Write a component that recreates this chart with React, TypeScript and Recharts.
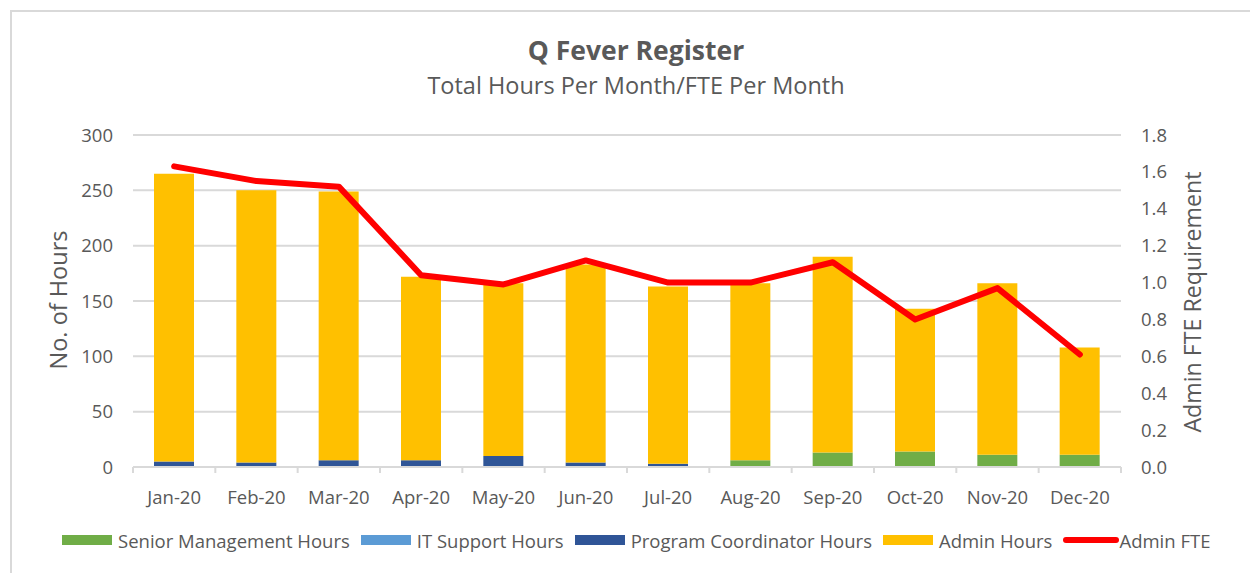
import {
  ComposedChart,
  Bar,
  Line,
  XAxis,
  YAxis,
  CartesianGrid,
} from "recharts";

const months = [
  "Jan-20", "Feb-20", "Mar-20", "Apr-20", "May-20", "Jun-20",
  "Jul-20", "Aug-20", "Sep-20", "Oct-20", "Nov-20", "Dec-20",
];
const seniorHours = [0, 0, 0, 0, 0, 0, 0, 6, 13, 14, 11, 11];
const itHours = [0, 0, 0, 0, 0, 0, 0, 0, 0, 0, 0, 0];
const coordinatorHours = [5, 4, 6, 6, 10, 4, 3, 0, 0, 0, 0, 0];
const adminHours = [260, 246, 243, 166, 156, 179, 160, 160, 177, 129, 155, 97];
const adminFte = [1.63, 1.55, 1.52, 1.04, 0.99, 1.12, 1.0, 1.0, 1.11, 0.8, 0.97, 0.61];

const hoursTicks = [0, 50, 100, 150, 200, 250, 300];
const fteTicks = [0, 0.2, 0.4, 0.6, 0.8, 1.0, 1.2, 1.4, 1.6, 1.8];

const W = 1250;
const H = 573;
const LEFT_W = 133;
const RIGHT_W = 129;
const PLOT_W = W - LEFT_W - RIGHT_W;
const TEXT = "#595959";
const GRID = "#d9d9d9";
const FONT = "'Open Sans', sans-serif";

const series = [
  { key: "senior", name: "Senior Management Hours", color: "#70AD47", type: "bar" },
  { key: "it", name: "IT Support Hours", color: "#5B9BD5", type: "bar" },
  { key: "coord", name: "Program Coordinator Hours", color: "#2F5597", type: "bar" },
  { key: "admin", name: "Admin Hours", color: "#FFC000", type: "bar" },
  { key: "fte", name: "Admin FTE", color: "#FF0000", type: "line" },
];

const data = months.map((m, i) => ({
  month: m,
  senior: seniorHours[i],
  it: itHours[i],
  coord: coordinatorHours[i],
  admin: adminHours[i],
  fte: adminFte[i],
}));

function MonthTick(props: any) {
  const { x, y, payload, index } = props;
  const band = PLOT_W / months.length;
  return (
    <g>
      <line x1={x - band / 2} x2={x - band / 2} y1={y} y2={y + 6} stroke={GRID} strokeWidth={2} />
      {index === months.length - 1 && (
        <line x1={x + band / 2} x2={x + band / 2} y1={y} y2={y + 6} stroke={GRID} strokeWidth={2} />
      )}
      <text
        x={x}
        y={y + 29}
        textAnchor="middle"
        dominantBaseline="central"
        fill={TEXT}
        fontSize={18.5}
        fontFamily={FONT}
      >
        {payload.value}
      </text>
    </g>
  );
}

export default function App() {
  return (
    <div
      style={{
        position: "fixed",
        left: 0,
        top: 0,
        width: W,
        height: H,
        overflow: "hidden",
        background: "#fff",
        fontFamily: FONT,
      }}
    >
      <div
        style={{
          position: "absolute",
          left: 10,
          top: 10,
          width: W + 40,
          height: H + 40,
          border: `2px solid ${GRID}`,
        }}
      />

      <div
        style={{
          position: "absolute",
          left: 11,
          width: W,
          top: 33,
          textAlign: "center",
          fontSize: 26.5,
          fontWeight: 700,
          color: TEXT,
          lineHeight: "34px",
        }}
      >
        Q Fever Register
      </div>
      <div
        style={{
          position: "absolute",
          left: 11,
          width: W,
          top: 70,
          textAlign: "center",
          fontSize: 23.5,
          color: TEXT,
          lineHeight: "30px",
        }}
      >
        Total Hours Per Month/FTE Per Month
      </div>

      <div
        style={{
          position: "absolute",
          left: 58,
          top: 300,
          transform: "translate(-50%, -50%) rotate(-90deg)",
          whiteSpace: "nowrap",
          fontSize: 23.5,
          color: TEXT,
        }}
      >
        No. of Hours
      </div>
      <div
        style={{
          position: "absolute",
          left: 1192,
          top: 302,
          transform: "translate(-50%, -50%) rotate(-90deg)",
          whiteSpace: "nowrap",
          fontSize: 23.2,
          color: TEXT,
        }}
      >
        Admin FTE Requirement
      </div>

      <div style={{ position: "absolute", left: 0, top: 0 }}>
        <ComposedChart
          width={W}
          height={H}
          data={data}
          margin={{ top: 135, right: 0, bottom: 46, left: 0 }}
          barSize={40}
        >
          <CartesianGrid yAxisId="hours" vertical={false} stroke={GRID} strokeWidth={2} />
          <XAxis
            dataKey="month"
            height={60}
            axisLine={{ stroke: GRID, strokeWidth: 2 }}
            tickLine={false}
            tickSize={0}
            tickMargin={0}
            interval={0}
            tick={<MonthTick />}
          />
          <YAxis
            yAxisId="hours"
            orientation="left"
            width={LEFT_W}
            domain={[0, 300]}
            ticks={hoursTicks}
            axisLine={false}
            tickLine={false}
            tickSize={0}
            tickMargin={20}
            tick={{ fill: TEXT, fontSize: 18.5, fontFamily: FONT }}
          />
          <YAxis
            yAxisId="fte"
            orientation="right"
            width={RIGHT_W}
            domain={[0, 1.8]}
            ticks={fteTicks}
            axisLine={false}
            tickLine={false}
            tickSize={0}
            tickMargin={20}
            tickFormatter={(v: number) => v.toFixed(1)}
            tick={{ fill: TEXT, fontSize: 18.5, fontFamily: FONT }}
          />
          {series
            .filter((s) => s.type === "bar")
            .map((s) => (
              <Bar
                key={s.key}
                dataKey={s.key}
                name={s.name}
                stackId="hours"
                yAxisId="hours"
                fill={s.color}
                isAnimationActive={false}
              />
            ))}
          <Line
            dataKey="fte"
            name="Admin FTE"
            yAxisId="fte"
            type="linear"
            stroke="#FF0000"
            strokeWidth={6}
            strokeLinecap="round"
            strokeLinejoin="round"
            dot={false}
            activeDot={false}
            isAnimationActive={false}
          />
        </ComposedChart>
      </div>

      <div
        style={{
          position: "absolute",
          left: 62,
          top: 527,
          height: 26,
          display: "flex",
          alignItems: "center",
          fontSize: 18.5,
          color: TEXT,
          whiteSpace: "nowrap",
        }}
      >
        {series.map((s) =>
          s.type === "bar" ? (
            <div key={s.key} style={{ display: "flex", alignItems: "center", marginRight: 11 }}>
              <span style={{ display: "inline-block", width: 50, height: 10, background: s.color, marginRight: 6 }} />
              <span>{s.name}</span>
            </div>
          ) : (
            <div key={s.key} style={{ display: "flex", alignItems: "center" }}>
              <span style={{ display: "inline-block", width: 56, height: 6, borderRadius: 3, background: s.color }} />
              <span>{s.name}</span>
            </div>
          )
        )}
      </div>
    </div>
  );
}
